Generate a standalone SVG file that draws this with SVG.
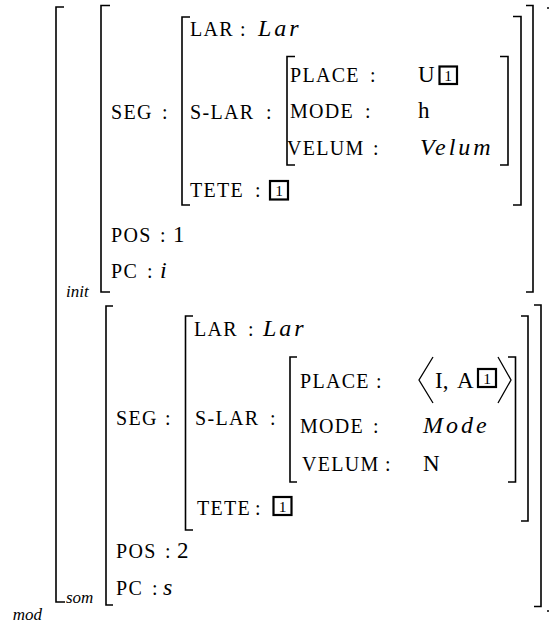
<svg xmlns="http://www.w3.org/2000/svg" width="549" height="626" viewBox="0 0 549 626">
<style>
.b{fill:none;stroke:#000;stroke-width:1.6}
.t{fill:none;stroke:#000;stroke-width:1.3}
.box{fill:none;stroke:#000;stroke-width:2.2}
text{font-family:"Liberation Serif","Times New Roman",serif;fill:#000}
.sc{font-size:20px;letter-spacing:1.3px}
.v{font-size:23px}
.mi{font-size:24px;font-style:italic;letter-spacing:3px}
.lbl{font-size:17px;font-style:italic}
.tag{font-size:15.5px;text-anchor:middle}
</style>
<rect width="549" height="626" fill="#fff"/>
<g id="outer">
<path class="b" d="M64,7 H56 V602 H65"/>
<path class="b" d="M547,8 H549"/>
<path class="b" d="M547,611 H549"/>
<text class="lbl" x="12.7" y="620">mod</text>
</g>
<g id="avm-init">
<path class="b" d="M110,5.5 H101 V292 H110"/>
<path class="b" d="M526,5.5 H533 V292 H526"/>
<text class="lbl" x="66" y="297">init</text>
<g id="init-seg">
<text class="sc" x="111" y="119">SEG<tspan x="162">:</tspan></text>
<path class="b" d="M190,17 H182 V205 H190"/>
<path class="b" d="M513,16.5 H521 V205 H513"/>
<text class="sc" x="190" y="36">LAR<tspan x="240">:</tspan></text>
<text class="mi" x="258" y="36">Lar</text>
<text class="sc" x="190" y="119">S-LAR<tspan x="266">:</tspan></text>
<g id="init-slar">
<path class="b" d="M295,56.5 H287 V165 H295"/>
<path class="b" d="M500,56.5 H508 V165 H500"/>
<text class="sc" x="290" y="82">PLACE<tspan x="370">:</tspan></text>
<text class="v" x="418" y="82">U</text>
<rect class="box" x="439.5" y="66.5" width="17.5" height="17.5"/>
<text class="tag" x="448.2" y="81">1</text>
<text class="sc" x="290" y="118">MODE<tspan x="365">:</tspan></text>
<text class="v" x="418" y="118">h</text>
<text class="sc" x="287" y="155">VELUM<tspan x="373">:</tspan></text>
<text class="mi" x="420" y="155">Velum</text>
</g>
<text class="sc" x="190" y="197">TETE<tspan x="255">:</tspan></text>
<rect class="box" x="270" y="181" width="18" height="18.5"/>
<text class="tag" x="279" y="196">1</text>
</g>
<text class="sc" x="111" y="242">POS<tspan x="160">:</tspan></text>
<text class="v" x="173" y="242">1</text>
<text class="sc" x="111" y="278">PC<tspan x="147">:</tspan></text>
<text class="mi" x="160" y="278">i</text>
</g>
<g id="avm-som">
<path class="b" d="M113,306 H106 V605 H113"/>
<path class="b" d="M534,305 H541 V606.5 H534"/>
<text class="lbl" x="66" y="603">som</text>
<g id="som-seg">
<text class="sc" x="116" y="425">SEG<tspan x="165">:</tspan></text>
<path class="b" d="M193,316 H185.5 V530 H193"/>
<path class="b" d="M521,316 H528 V521 H521"/>
<text class="sc" x="194" y="336">LAR<tspan x="248">:</tspan></text>
<text class="mi" x="263" y="336">Lar</text>
<text class="sc" x="195" y="425">S-LAR<tspan x="270">:</tspan></text>
<g id="som-slar">
<path class="b" d="M297,357 H290 V482 H297"/>
<path class="b" d="M508,357 H515.5 V482 H508"/>
<text class="sc" x="300" y="388">PLACE<tspan x="376">:</tspan></text>
<path class="t" d="M433,357 L419,380 L433,403"/>
<text class="v" x="435" y="388">I,<tspan x="457">A</tspan></text>
<rect class="box" x="478" y="369" width="18" height="18"/>
<text class="tag" x="487" y="383.5">1</text>
<path class="t" d="M498,357 L511,380 L498,403"/>
<text class="sc" x="300" y="433">MODE<tspan x="373">:</tspan></text>
<text class="mi" x="423" y="433">Mode</text>
<text class="sc" x="302" y="471">VELUM<tspan x="385">:</tspan></text>
<text class="v" x="423" y="471">N</text>
</g>
<text class="sc" x="197" y="515">TETE<tspan x="255">:</tspan></text>
<rect class="box" x="273.5" y="497" width="18" height="18"/>
<text class="tag" x="282.5" y="511.5">1</text>
</g>
<text class="sc" x="116" y="558">POS<tspan x="165">:</tspan></text>
<text class="v" x="177" y="558">2</text>
<text class="sc" x="116" y="595">PC<tspan x="152">:</tspan></text>
<text class="mi" x="163" y="595">s</text>
</g>
</svg>
